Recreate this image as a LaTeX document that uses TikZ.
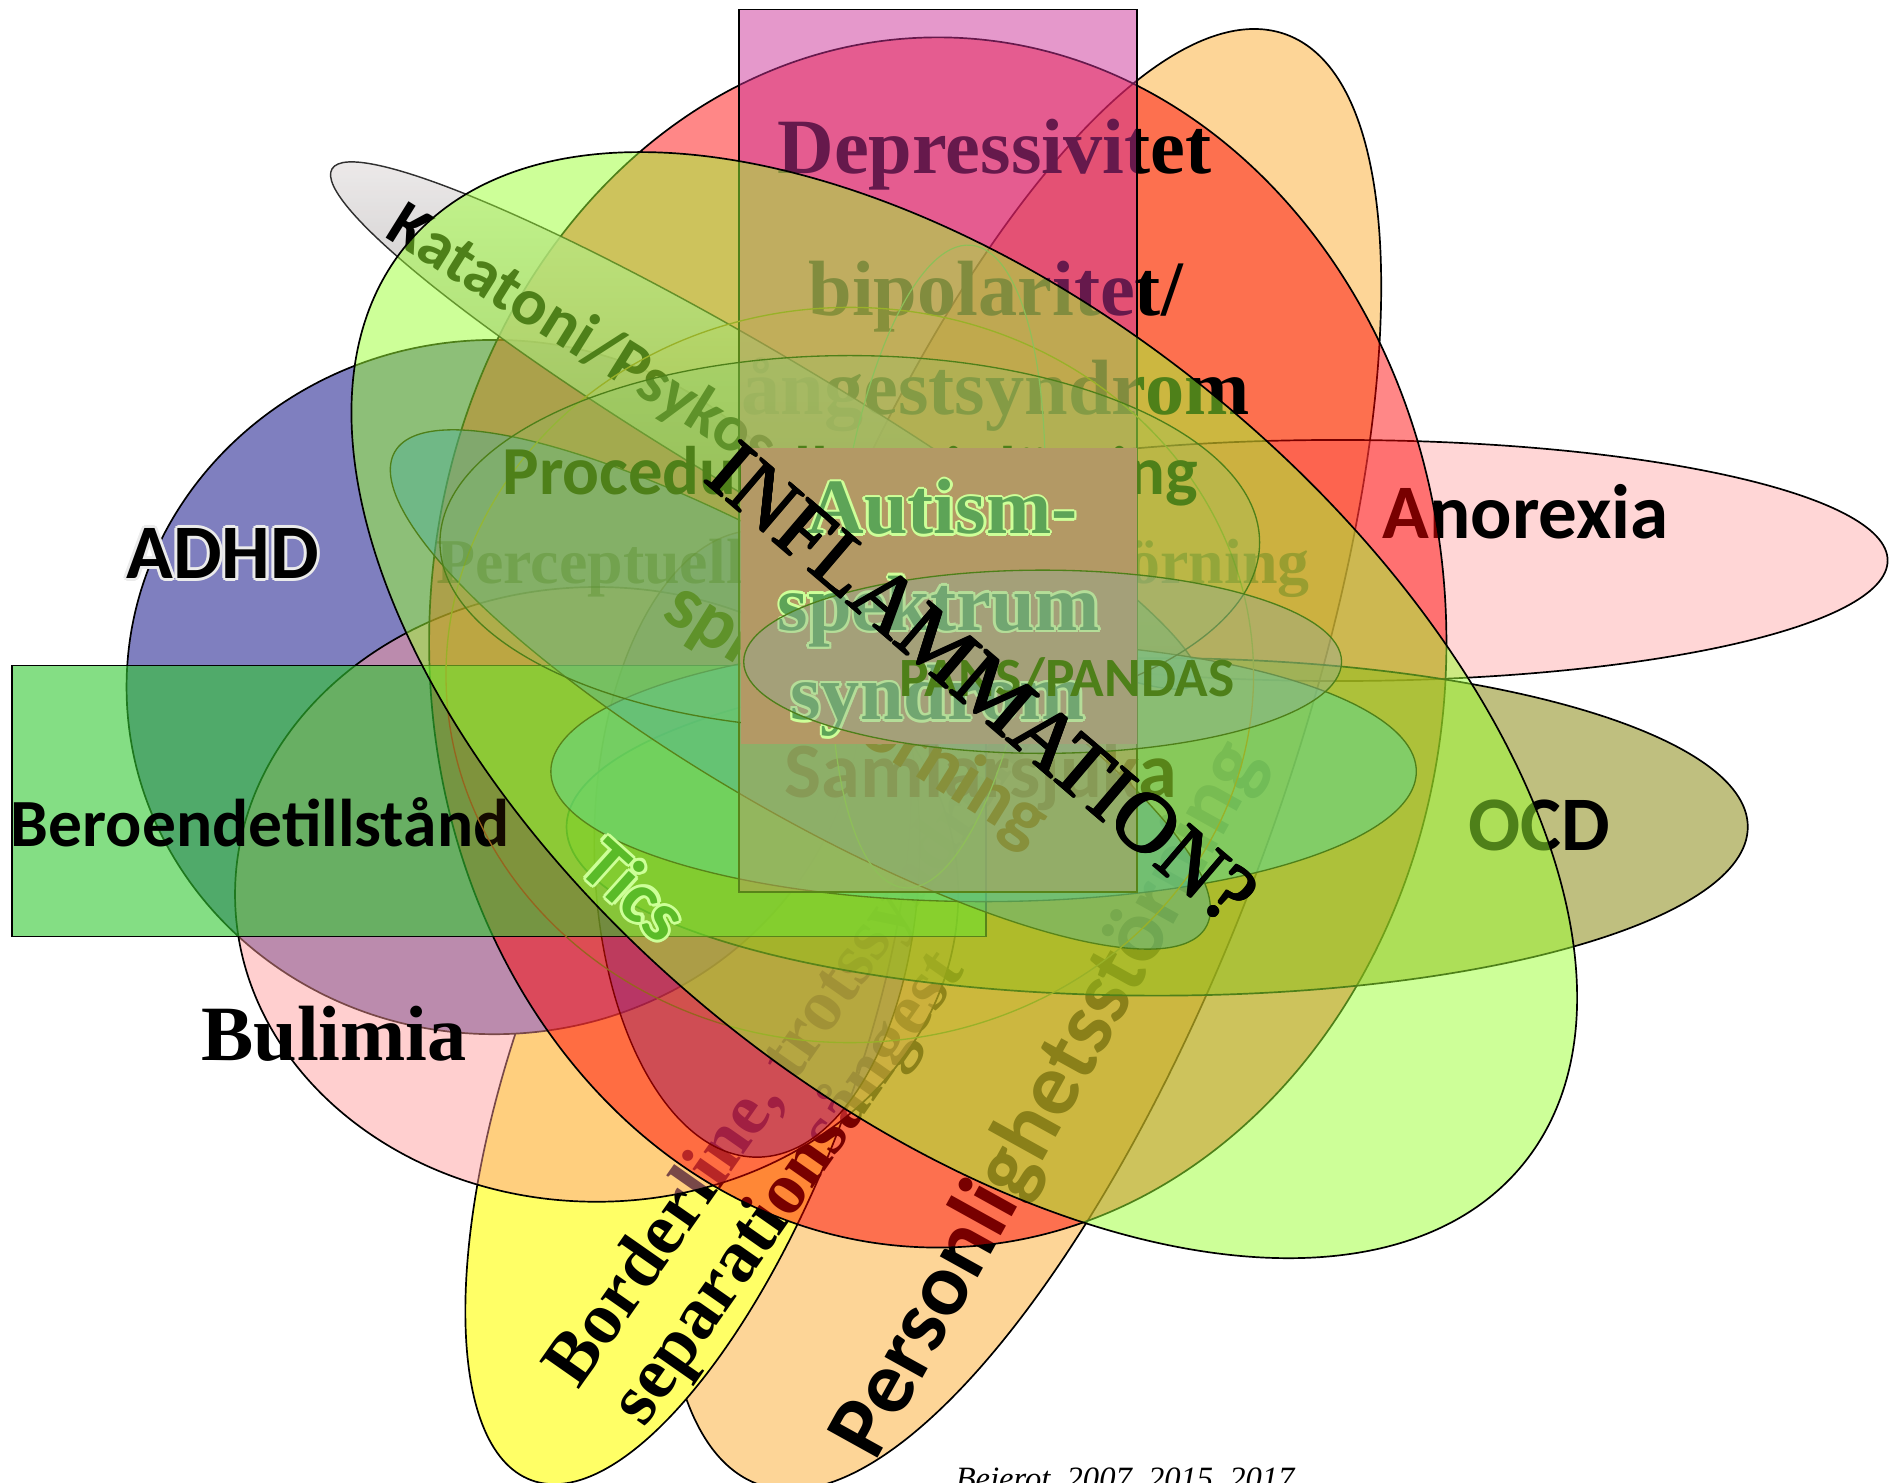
\documentclass[tikz,border=0pt]{standalone}
\usepackage{fontspec}
\setmainfont{Liberation Serif}
\newfontfamily\calfont{Carlito}
\usetikzlibrary{shapes.geometric}

\definecolor{orangeF}{RGB}{253,213,151}
\definecolor{yellowF}{RGB}{255,255,102}
\definecolor{pinkF}{RGB}{255,153,153}
\definecolor{adhdF}{RGB}{127,127,191}
\definecolor{oliveF}{RGB}{128,128,0}
\definecolor{magF}{RGB}{204,51,153}
\definecolor{berF}{RGB}{50,200,50}
\definecolor{limeF}{RGB}{156,255,50}
\definecolor{tealF}{RGB}{0,100,255}
\definecolor{samF}{RGB}{20,180,250}
\definecolor{pansF}{RGB}{130,86,255}
\definecolor{uF}{RGB}{120,20,120}
\definecolor{uD}{RGB}{128,0,0}
\definecolor{autC}{RGB}{31,73,125}
\definecolor{ticC}{RGB}{25,120,30}
\definecolor{procF}{RGB}{90,150,170}
\definecolor{angD}{RGB}{150,100,30}
\definecolor{katA}{RGB}{238,235,235}
\definecolor{katB}{RGB}{95,90,90}
\definecolor{glowC}{RGB}{235,235,235}

\newcommand\cb[1]{\calfont\bfseries\fontsize{#1}{#1}\selectfont}
\newcommand\tb[1]{\rmfamily\bfseries\fontsize{#1}{#1}\selectfont}
\newcommand\halo[4]{\leavevmode
 \rlap{\textcolor{#1}{\kern#2\relax #4}}%
 \rlap{\textcolor{#1}{\kern-#2\relax #4}}%
 \rlap{\textcolor{#1}{\raisebox{#2}{#4}}}%
 \rlap{\textcolor{#1}{\raisebox{-#2}{#4}}}%
 \rlap{\textcolor{#1}{\kern#3\relax\raisebox{#3}{#4}}}%
 \rlap{\textcolor{#1}{\kern#3\relax\raisebox{-#3}{#4}}}%
 \rlap{\textcolor{#1}{\kern-#3\relax\raisebox{#3}{#4}}}%
 \rlap{\textcolor{#1}{\kern-#3\relax\raisebox{-#3}{#4}}}%
 #4}

\tikzset{
 txt/.style={inner sep=0pt, outer sep=0pt},
 outl/.style={draw=black, line width=1.4pt},
 thin/.style={draw=black, line width=1.1pt},
}

\begin{document}
\begin{tikzpicture}[x=1pt,y=-1pt]
\useasboundingbox (0,0) rectangle (1568,1230);
\fill[white] (0,0) rectangle (1568,1230);

% Personlighetsstorning (orange)
\path[outl, fill=orangeF, rotate around={70:(848,630)}] (848,630) ellipse [x radius=640pt, y radius=215pt];
\node[txt, font=\cb{74}, rotate=61, anchor=base] (pers) at (888,922) {Personlighetsstörning};

% Borderline (yellow)
\path[outl, fill=yellowF, rotate around={70:(571,871)}] (571,871) ellipse [x radius=380pt, y radius=140pt];
\node[txt, font=\tb{61}, rotate=55, anchor=base west] (bord) at (480,1154) {Borderline, trotssyndrom/};
\node[txt, font=\tb{61}, rotate=55, anchor=base west] (sepa) at (535,1185) {separationsångest};

% Anorexia
\path[outl, fill=pinkF, fill opacity=0.4] (1110,465) ellipse [x radius=456pt, y radius=100pt];
\node[txt, font=\cb{64}, anchor=base west] (anor) at (1147,447) {Anorexia};

% ADHD
\path[outl, fill=adhdF] (410,570) ellipse [x radius=305pt, y radius=288pt];
\node[txt, font=\cb{64}, anchor=base west] (adhd) at (105,480) {\halo{glowC}{2.5pt}{1.8pt}{ADHD}};

% Bulimia
\path[outl, fill=pinkF, fill opacity=0.47] (495,742) ellipse [x radius=300pt, y radius=255pt];
\node[txt, font=\tb{65}, anchor=base west] (buli) at (167,880) {Bulimia};

% Depressivitet (red)
\path[outl, fill=red, fill opacity=0.47] (778,533) ellipse [x radius=422pt, y radius=502pt];
\node[txt, font=\tb{65}, anchor=base] (depr) at (825,144) {Depressivitet};
\node[txt, font=\tb{65}, anchor=base] (bipo) at (826,262) {bipolaritet/};
\node[txt, font=\tb{65}, anchor=base] (ange) at (826,344) {ångestsyndrom};

% dark red ellipse
\path[draw=uD, line width=1.2pt, fill=uF, fill opacity=0.35] (628,700) ellipse [x radius=135pt, y radius=260pt];

% OCD
\path[outl, fill=oliveF, fill opacity=0.5] (960,686) ellipse [x radius=490pt, y radius=140pt];
\node[txt, font=\cb{64}, anchor=base west] (ocd) at (1218,706) {OCD};

% Katatoni
\node[ellipse, draw=black, line width=1.2pt, minimum width=834pt, minimum height=116pt, inner sep=0pt, rotate=-30.7, top color=katA, bottom color=katB, opacity=0.8] (katshape) at (634,353) {};
\node[txt, font=\cb{55}, rotate=-32, anchor=base west] (kata) at (318,196) {Katatoni/Psykos};

% Beroendetillstand
\path[outl, fill=berF, fill opacity=0.6] (10,552) rectangle (818,777);
\node[txt, font=\cb{56}, anchor=base west] (bero) at (9,702) {Beroendetillstånd};

% Samlarsjuka
\path[thin, fill=samF, fill opacity=0.5] (816,640) ellipse [x radius=359pt, y radius=108pt];
\node[txt, font=\cb{65}, anchor=base west] (saml) at (651,662) {Samlarsjuka};

% sprakstorning ellipse and text (under the tall rectangle)
\path[thin, fill=tealF, fill opacity=0.45, rotate around={-30.4:(664,572)}] (664,572) ellipse [x radius=390pt, y radius=100pt];
\node[txt, font=\cb{64}, rotate=-32, anchor=base west] (sprk) at (548,512) {språkstörning};

% tall magenta rectangle
\path[outl, fill=magF, fill opacity=0.5] (613,8) rectangle (943,740);

% faint inner ellipses
\path[draw=angD, line width=1.1pt, fill=orange, fill opacity=0.08] (705,560) ellipse [x radius=335pt, y radius=305pt];
\path[draw=gray, line width=1pt, rotate around={-6:(778,470)}] (778,470) ellipse [x radius=85pt, y radius=268pt];

\node[txt, font=\tb{53}, anchor=base west, text opacity=0.4] (perc) at (362,484) {Perceptuell\hspace{281pt}störning};

\path[thin, fill=procF, fill opacity=0.2] (705,450) ellipse [x radius=340pt, y radius=155pt];

\node[txt, font=\cb{57}, anchor=base west] (proc) at (417,410) {Procedurell\hspace{84pt} inlärning};
\node[txt, font=\cb{60}, rotate=-42, anchor=base west, text=ticC] (tics) at (478,722) {\halo{white}{2.5pt}{1.8pt}{Tics}};

% Autism box
\fill[magF] (615,372) rectangle (943,617);
\node[txt, font=\tb{65}, anchor=base, text=autC] (aut1) at (782,443) {\halo{white}{2pt}{1.4pt}{Autism-}};
\node[txt, font=\tb{65}, anchor=base, text=autC] (aut2) at (779,523) {\halo{white}{2pt}{1.4pt}{spektrum}};
\node[txt, font=\tb{65}, anchor=base, text=autC] (aut3) at (778,597) {\halo{white}{2pt}{1.4pt}{syndrom}};

% PANS/PANDAS
\path[thin, fill=pansF, fill opacity=0.4] (865,549) ellipse [x radius=248pt, y radius=76pt];
\node[txt, font=\cb{46}, anchor=base west] (pans) at (746,578) {PANS/PANDAS};

% Inflammation ellipse
\path[outl, fill=limeF, fill opacity=0.5, rotate around={-39.5:(800,585)}] (800,585) ellipse [x radius=600pt, y radius=330pt];
\node[txt, font=\rmfamily\fontsize{70}{70}\selectfont, rotate=-40.5] (infl) at (815,567) {\halo{black}{0.8pt}{0.55pt}{INFLAMMATION?}};

\node[txt, font=\rmfamily\itshape\fontsize{27}{27}\selectfont, anchor=base west] (bejr) at (793,1236) {Bejerot, 2007, 2015, 2017};
\end{tikzpicture}
\end{document}
